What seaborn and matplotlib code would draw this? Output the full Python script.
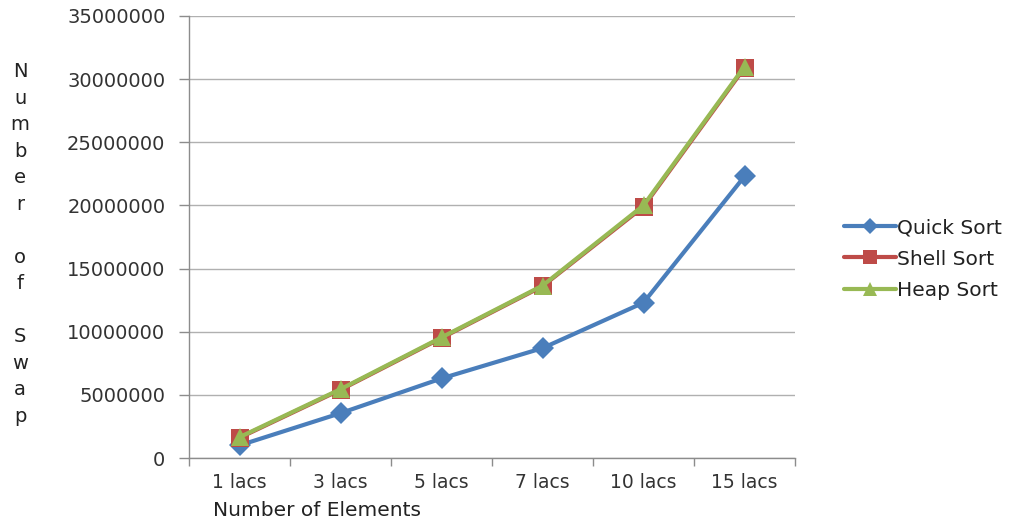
import matplotlib
matplotlib.use("Agg")
import matplotlib.pyplot as plt
from matplotlib.ticker import MultipleLocator, FixedLocator, NullFormatter
import seaborn as sns
import pandas as pd

categories = ["1 lacs", "3 lacs", "5 lacs", "7 lacs", "10 lacs", "15 lacs"]
quick_sort = [1000000, 3550000, 6300000, 8700000, 12300000, 22300000]
shell_sort = [1600000, 5400000, 9500000, 13600000, 19900000, 30900000]
heap_sort = [1650000, 5450000, 9550000, 13650000, 20000000, 31000000]

series_names = ["Quick Sort", "Shell Sort", "Heap Sort"]
series_values = [quick_sort, shell_sort, heap_sort]
colors = {"Quick Sort": "#4A7EBB", "Shell Sort": "#BE4B48", "Heap Sort": "#98B954"}
markers = {"Quick Sort": "D", "Shell Sort": "s", "Heap Sort": "^"}
msizes = {"Quick Sort": 11, "Shell Sort": 13, "Heap Sort": 13}

sns.set_theme(style="white")
plt.rcParams["font.family"] = ["DejaVu Sans"]

fig = plt.figure(figsize=(10.11, 5.25), dpi=100)
ax = fig.add_axes([189 / 1011, 1 - 458 / 525, 606 / 1011, 442 / 525])

for name, vals in zip(series_names, series_values):
    df = pd.DataFrame({"x": list(range(len(categories))), "y": vals})
    sns.lineplot(data=df, x="x", y="y", ax=ax, color=colors[name], lw=3,
                 marker=markers[name], markersize=msizes[name],
                 markeredgewidth=0, label=name, legend=False)

ax.set_xlim(-0.5, len(categories) - 0.5)
ax.set_ylim(0, 35000000)
ax.yaxis.set_major_locator(MultipleLocator(5000000))
ax.set_yticklabels([f"{int(v)}" for v in ax.get_yticks()])

ax.set_xticks(range(len(categories)))
ax.set_xticklabels(categories)
ax.xaxis.set_minor_locator(FixedLocator([i - 0.5 for i in range(len(categories) + 1)]))
ax.xaxis.set_minor_formatter(NullFormatter())
ax.tick_params(axis="x", which="major", length=0, pad=11, labelsize=13.5, colors="#333333")
ax.tick_params(axis="x", which="minor", length=6, width=1, color="#8c8c8c", direction="out", bottom=True)
ax.tick_params(axis="y", which="major", length=7, width=1, color="#8c8c8c", direction="out",
               left=True, pad=10, labelsize=14, labelcolor="#333333")

ax.grid(axis="y", color="#b0b0b0", lw=1)
ax.set_axisbelow(True)
for side in ["top", "right"]:
    ax.spines[side].set_visible(False)
for side in ["left", "bottom"]:
    ax.spines[side].set_color("#8c8c8c")
    ax.spines[side].set_linewidth(1)

ax.set_xlabel("")
ax.set_ylabel("")
fig.text(213 / 1011, 1 - 511 / 525, "Number of Elements", fontsize=14.5, color="#222222",
         ha="left", va="center")

ylabel_chars = ["N", "u", "m", "b", "e", "r", "", "o", "f", "", "S", "w", "a", "p"]
fig.text(20 / 1011, 1 - 244 / 525, "\n".join(ylabel_chars), fontsize=14, color="#222222",
         ha="center", va="center", linespacing=1.5)

handles, labels = ax.get_legend_handles_labels()
fig.legend(handles, labels, loc="center left", bbox_to_anchor=(826 / 1011, 1 - 259 / 525),
           frameon=False, fontsize=14.5, handlelength=2.6, handletextpad=0.05,
           labelspacing=0.6, markerscale=0.75, labelcolor="#222222")

fig.savefig("out.png", dpi=100, facecolor="white")
